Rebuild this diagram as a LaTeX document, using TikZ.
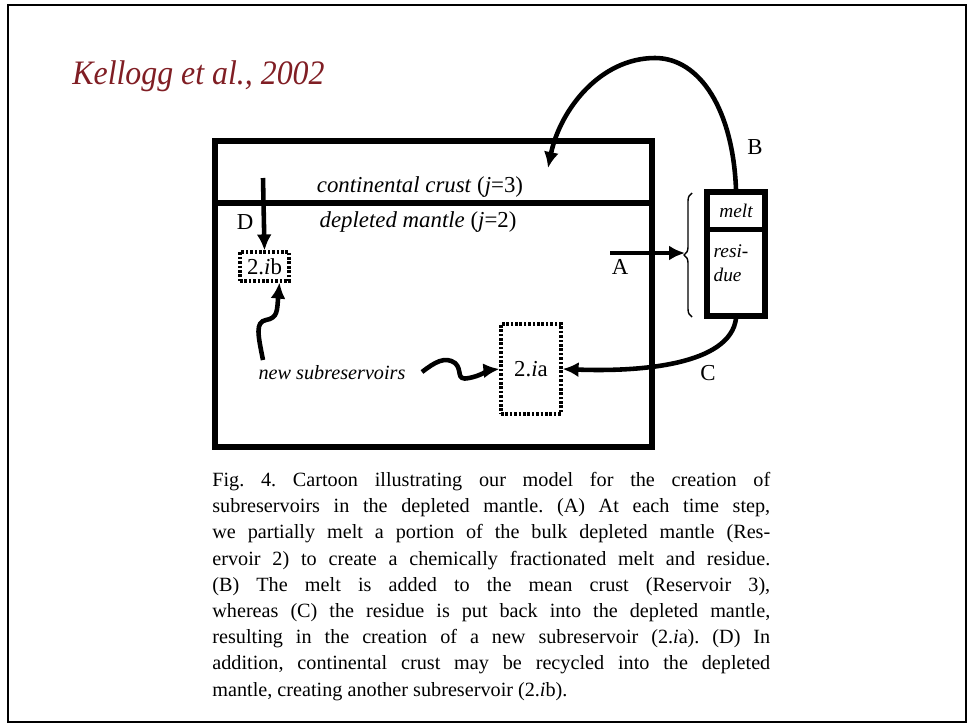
\documentclass[tikz,border=0pt]{standalone}
\usepackage{fontspec}
\setmainfont{Liberation Serif}
\usetikzlibrary{arrows.meta,decorations.pathreplacing}
\definecolor{kelloggred}{RGB}{128,30,36}
\frenchspacing

\begin{document}
\begin{tikzpicture}[x=0.02cm,y=-0.02cm,
	wall/.style={line width=3.4pt},
	cellwall/.style={draw,line width=2.9pt},
	flow/.style={line width=2.6pt,-{Latex[length=3.2mm,width=3mm]}},
	subres/.style={draw,line width=1.8pt,dash pattern=on 1.5pt off 1pt,inner sep=0pt},
	lbl/.style={font=\fontsize{13}{15}\selectfont}]
	\useasboundingbox[fill=white] (0,0) rectangle (969,724);
	\draw[line width=1.3pt] (8,5) rectangle (966,722);

	\node[anchor=base west,inner sep=0,text=kelloggred,font=\fontsize{19.5}{22}\selectfont\itshape] (cite) at (72,84) {\scalebox{0.93}[1]{Kellogg et al., 2002}};

	% reservoirs
	\node[draw,wall,minimum width=8.74cm,minimum height=6.12cm] (mantle) at (433.5,294) {};
	\draw[wall] (mantle.west |- 0,203) -- (mantle.east |- 0,203);
	\node[lbl] (crust) at (420,187) {\textit{continental crust} (\textit{j}=3)};
	\node[lbl] (depleted) at (418,222) {\textit{depleted mantle} (\textit{j}=2)};

	\node[cellwall,minimum width=1.16cm,minimum height=0.75cm,font=\fontsize{11}{13}\selectfont\itshape] (melt) at (736,210.75) {melt};
	\node[cellwall,minimum width=1.16cm,minimum height=1.73cm] (residue) at (736,272.75) {};
	\node[align=left,inner sep=0,font=\fontsize{11}{13.5}\selectfont\itshape] (residuetext) at (731,263) {resi-\\due};

	\node[subres,minimum width=0.98cm,minimum height=0.58cm,lbl] (ib) at (264.5,266.5) {2.\textit{i}b};
	\node[subres,minimum width=1.2cm,minimum height=1.8cm,lbl] (ia) at (531,369) {2.\textit{i}a};
	\node[font=\fontsize{11.5}{13}\selectfont\itshape] (newsub) at (332,373) {new subreservoirs};

	% A: partial melting
	\coordinate (Astart) at (610,253);
	\coordinate (bracetop) at (692,193);
	\coordinate (bracebot) at (692,317);
	\coordinate (bracetip) at (685,253);
	\draw[line width=0.8pt,decorate,decoration={brace,amplitude=0.16cm}] (bracebot) -- (bracetop);
	\draw[flow] (Astart) -- (bracetip);
	\node[lbl] (A) at (620,267) {A};

	% B: melt to crust
	\coordinate (crustin) at (548,168);
	\draw[flow] (melt.north) .. controls (733,110) and (700,58) .. (655,58) .. controls (600,58) and (560,110) .. (crustin);
	\node[lbl] (B) at (755,147) {B};

	% C: residue back to mantle
	\draw[flow] (residue.south) .. controls (730,365) and (640,372) .. (ia.east);
	\node[lbl] (C) at (708,373) {C};

	% D: crust recycling
	\coordinate (Dstart) at (263,178);
	\draw[flow] (Dstart) -- (ib.north);
	\node[lbl] (D) at (245,222) {D};

	% new subreservoirs
	\coordinate (ibroot) at (263,360);
	\coordinate (iaroot) at (422,372);
	\draw[flow] (ibroot) .. controls (258,335) and (255,322) .. (266,320) .. controls (278,318) and (277,310) .. (ib.-47);
	\draw[flow] (iaroot) .. controls (435,362) and (445,356) .. (455,363) .. controls (463,370) and (455,381) .. (469,378) .. controls (480,376) and (490,370) .. (ia.west);

	\node[anchor=north west,inner sep=0,text width=11.16cm,align=justify,font=\fontsize{11.5}{14.9}\selectfont] (caption) at (212,472) {\hbadness=10000
	Fig. 4. Cartoon illustrating our model for the creation of\linebreak
	subreservoirs in the depleted mantle. (A) At each time step,\linebreak
	we partially melt a portion of the bulk depleted mantle (Res-\linebreak
	ervoir 2) to create a chemically fractionated melt and residue.\linebreak
	(B) The melt is added to the mean crust (Reservoir 3),\linebreak
	whereas (C) the residue is put back into the depleted mantle,\linebreak
	resulting in the creation of a new subreservoir (2.\textit{i}a). (D) In\linebreak
	addition, continental crust may be recycled into the depleted\linebreak
	mantle, creating another subreservoir (2.\textit{i}b).};
\end{tikzpicture}
\end{document}
